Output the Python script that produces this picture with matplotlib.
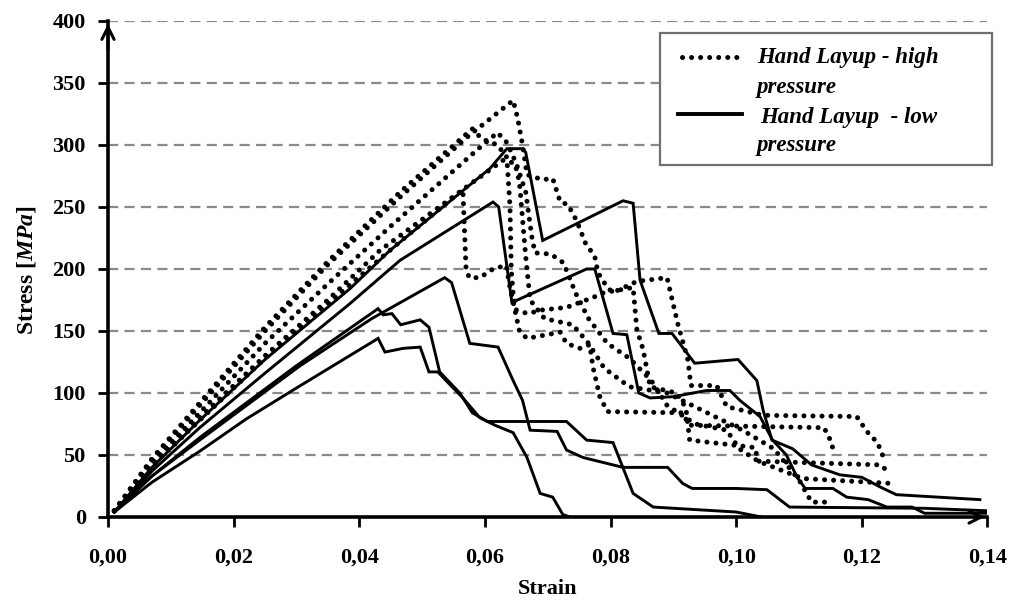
import matplotlib
matplotlib.use('Agg')
import matplotlib.pyplot as plt
from matplotlib.patches import Rectangle
from matplotlib.lines import Line2D
from matplotlib.ticker import FuncFormatter

plt.rcParams['font.family'] = 'Liberation Serif'
plt.rcParams['font.weight'] = 'bold'
plt.rcParams['mathtext.fontset'] = 'custom'
plt.rcParams['mathtext.it'] = 'Liberation Serif:italic:bold'

# Hand layup - low pressure (solid)
s1_strain = [0.001, 0.007, 0.0146, 0.025, 0.0385, 0.0449, 0.0608, 0.0635, 0.066, 0.0665, 0.0692, 0.082, 0.0836,
             0.0847, 0.0877, 0.0898, 0.0934, 0.1003, 0.1033, 0.1043, 0.1057, 0.109, 0.112, 0.1165, 0.12, 0.123,
             0.1255, 0.1388]
s1_stress = [4, 40, 78, 127, 184, 215, 281, 297, 297, 294, 223, 255, 253,
             191, 148, 148, 124, 127, 110, 86, 62, 55, 42, 34, 32, 24,
             18, 14]

s2_strain = [0.001, 0.007, 0.0146, 0.025, 0.0385, 0.0465, 0.0613, 0.0622, 0.0643, 0.0762, 0.0775, 0.0804, 0.0826,
             0.0845, 0.0863, 0.090, 0.0953, 0.099, 0.1006, 0.1038, 0.1058, 0.108, 0.1097, 0.111, 0.1154, 0.1176,
             0.121, 0.124, 0.128, 0.130, 0.140]
s2_stress = [4, 37, 72, 116, 172, 207, 254, 250, 173, 200, 200, 148, 147,
             100, 96, 97, 102, 102, 94, 81, 62, 50, 32, 23, 23, 16,
             14, 8, 8, 3, 3]

s3_strain = [0.001, 0.007, 0.0146, 0.0306, 0.042, 0.0536, 0.0547, 0.0576, 0.0621, 0.0645, 0.066, 0.0672, 0.0715,
             0.073, 0.0756, 0.082, 0.0891, 0.0915, 0.093, 0.100, 0.1049, 0.1085, 0.130, 0.140]
s3_stress = [4, 33, 62, 122, 160, 193, 189, 140, 137, 110, 94, 70, 69,
             54, 48, 40, 40, 27, 23, 23, 22, 8, 7, 5]

s4_strain = [0.001, 0.007, 0.0146, 0.030, 0.043, 0.0438, 0.0452, 0.0466, 0.0497, 0.0511, 0.0528, 0.056, 0.058,
             0.0604, 0.073, 0.0762, 0.0804, 0.0836, 0.0868, 0.100, 0.104]
s4_stress = [4, 33, 64, 122, 168, 163, 164, 155, 159, 153, 117, 100, 84,
             77, 77, 62, 60, 19, 8, 4, 0]

s5_strain = [0.001, 0.007, 0.0146, 0.022, 0.030, 0.043, 0.0441, 0.047, 0.0497, 0.0511, 0.0525, 0.0542, 0.0565,
             0.0592, 0.0616, 0.0645, 0.0667, 0.0688, 0.0708, 0.0724, 0.0735]
s5_stress = [4, 28, 53, 79, 104, 144, 133, 136, 137, 117, 117, 108, 96,
             80, 74, 68, 48, 19, 16, 2, 0]

# Hand layup - high pressure (dotted)
d1_strain = [0.001, 0.007, 0.0146, 0.025, 0.0349, 0.0465, 0.0571, 0.0645, 0.0652, 0.066, 0.0667, 0.0692, 0.0708,
             0.072, 0.0732, 0.0746, 0.076, 0.0775, 0.078, 0.0795, 0.0804, 0.0842, 0.089, 0.0907, 0.0923, 0.0928,
             0.0969, 0.0985, 0.1043, 0.1192, 0.1208, 0.1225, 0.1233]
d1_stress = [5, 46, 90, 150, 203, 258, 306, 336, 322, 300, 276, 272, 273,
             254, 252, 239, 221, 210, 197, 185, 181, 190, 193, 156, 127, 106,
             106, 89, 82, 81, 69, 60, 50]

d2_strain = [0.001, 0.007, 0.0146, 0.025, 0.035, 0.0449, 0.0592, 0.062, 0.0635, 0.065, 0.0665, 0.0675, 0.068,
             0.0705, 0.0725, 0.0745, 0.0765, 0.0795, 0.083, 0.0865, 0.089, 0.0935, 0.0985, 0.1005, 0.1035,
             0.1106, 0.125]
d2_stress = [5, 44, 84, 140, 188, 234, 298, 310, 302, 285, 262, 225, 213,
             212, 205, 180, 160, 140, 128, 110, 90, 75, 70, 55, 45,
             31, 27]

d3_strain = [0.001, 0.007, 0.0146, 0.025, 0.035, 0.0465, 0.058, 0.0595, 0.062, 0.0635, 0.064, 0.0642, 0.0645,
             0.065, 0.0668, 0.0692, 0.073, 0.0772, 0.079, 0.0836, 0.0842, 0.0852, 0.0863, 0.0905, 0.092,
             0.0926, 0.103, 0.1035, 0.123, 0.1245]
d3_stress = [5, 47, 92, 153, 206, 262, 313, 305, 300, 290, 250, 200, 180,
             167, 164, 167, 169, 177, 181, 185, 151, 135, 105, 100, 88,
             62, 56, 45, 42, 35]

d4_strain = [0.001, 0.007, 0.0146, 0.025, 0.035, 0.0465, 0.0565, 0.057, 0.0575, 0.0592, 0.0613, 0.0634, 0.064,
             0.0655, 0.0667, 0.072, 0.073, 0.0751, 0.0767, 0.0772, 0.0783, 0.0795, 0.0915, 0.0925, 0.114,
             0.1152, 0.1155]
d4_stress = [5, 41, 78, 128, 172, 222, 264, 200, 193, 193, 200, 203, 185,
             150, 144, 149, 140, 136, 139, 121, 97, 85, 84, 74, 72,
             60, 52]

d5_strain = [0.001, 0.007, 0.0146, 0.025, 0.035, 0.0433, 0.0608, 0.063, 0.0648, 0.0655, 0.066, 0.0665, 0.0672,
             0.0695, 0.074, 0.0765, 0.079, 0.083, 0.089, 0.095, 0.101, 0.106, 0.110, 0.112, 0.1155]
d5_stress = [5, 42, 80, 130, 175, 215, 280, 288, 285, 270, 240, 210, 175,
             160, 155, 140, 120, 105, 100, 85, 70, 55, 30, 12, 12]

x_ticks = [0.00, 0.02, 0.04, 0.06, 0.08, 0.10, 0.12, 0.14]
y_ticks = [0, 50, 100, 150, 200, 250, 300, 350, 400]

fig = plt.figure(figsize=(10.12, 6.01), dpi=100)
ax = fig.add_axes([0.1067, 0.1398, 0.869, 0.8253])

dot_style = dict(color='black', lw=3.6, linestyle=(0, (0.01, 1.8)), dash_capstyle='round')
solid_style = dict(color='black', lw=2.1, solid_joinstyle='miter')

for xs, ys in [(d1_strain, d1_stress), (d2_strain, d2_stress), (d3_strain, d3_stress),
               (d4_strain, d4_stress), (d5_strain, d5_stress)]:
    ax.plot(xs, ys, **dot_style)

for xs, ys in [(s1_strain, s1_stress), (s2_strain, s2_stress), (s3_strain, s3_stress),
               (s4_strain, s4_stress), (s5_strain, s5_stress)]:
    ax.plot(xs, ys, **solid_style)

ax.set_xlim(0, 0.14)
ax.set_ylim(0, 400)
ax.set_xticks(x_ticks)
ax.set_yticks(y_ticks)
ax.xaxis.set_major_formatter(FuncFormatter(lambda v, p: f'{v:.2f}'.replace('.', ',')))

for yv in y_ticks[1:]:
    ax.axhline(yv, color='#8a8a8a', lw=1.6, linestyle=(0, (4.6, 2.8)), zorder=0)

for side in ['top', 'right']:
    ax.spines[side].set_visible(False)
for side in ['left', 'bottom']:
    ax.spines[side].set_linewidth(2.6)

ax.tick_params(axis='both', direction='out', length=7, width=2, labelsize=16)
ax.tick_params(axis='y', pad=9)
ax.tick_params(axis='x', pad=15)
for lab in ax.get_xticklabels() + ax.get_yticklabels():
    lab.set_fontweight('bold')

# axis arrows
ax.annotate('', xy=(0, 400), xytext=(0, 375), xycoords='data',
            arrowprops=dict(arrowstyle='->', lw=2.2, color='black', mutation_scale=22),
            annotation_clip=False)
ax.annotate('', xy=(0.14, 0), xytext=(0.1375, 0), xycoords='data',
            arrowprops=dict(arrowstyle='->', lw=2.2, color='black', mutation_scale=22),
            annotation_clip=False)

fig.text(548 / 1012, 1 - 589 / 601, 'Strain', ha='center', va='center', fontsize=16, fontweight='bold')
fig.text(27 / 1012, 1 - 270 / 601, r'Stress [$\mathit{MPa}$]', ha='center', va='center',
         rotation=90, fontsize=17, fontweight='bold')

# legend box
W, H = 1012, 601
fig.add_artist(Rectangle((660 / W, 1 - 165 / H), 332 / W, 132 / H, transform=fig.transFigure,
                         fill=True, facecolor='white', edgecolor='#707070', lw=1.6, zorder=5))
fig.add_artist(Line2D([682 / W, 740 / W], [1 - 57 / H, 1 - 57 / H], transform=fig.transFigure,
                      zorder=6, **dot_style))
fig.add_artist(Line2D([678 / W, 742 / W], [1 - 114 / H, 1 - 114 / H], transform=fig.transFigure,
                      color='black', lw=2.8, zorder=6))
leg_font = dict(fontsize=16.5, fontweight='bold', fontstyle='italic', zorder=7, va='center', ha='left')
fig.text(757 / W, 1 - 58 / H, 'Hand Layup - high', **leg_font)
fig.text(757 / W, 1 - 87 / H, 'pressure', **leg_font)
fig.text(760 / W, 1 - 117 / H, 'Hand Layup  - low', **leg_font)
fig.text(757 / W, 1 - 146 / H, 'pressure', **leg_font)

fig.savefig('out.png', dpi=100)
